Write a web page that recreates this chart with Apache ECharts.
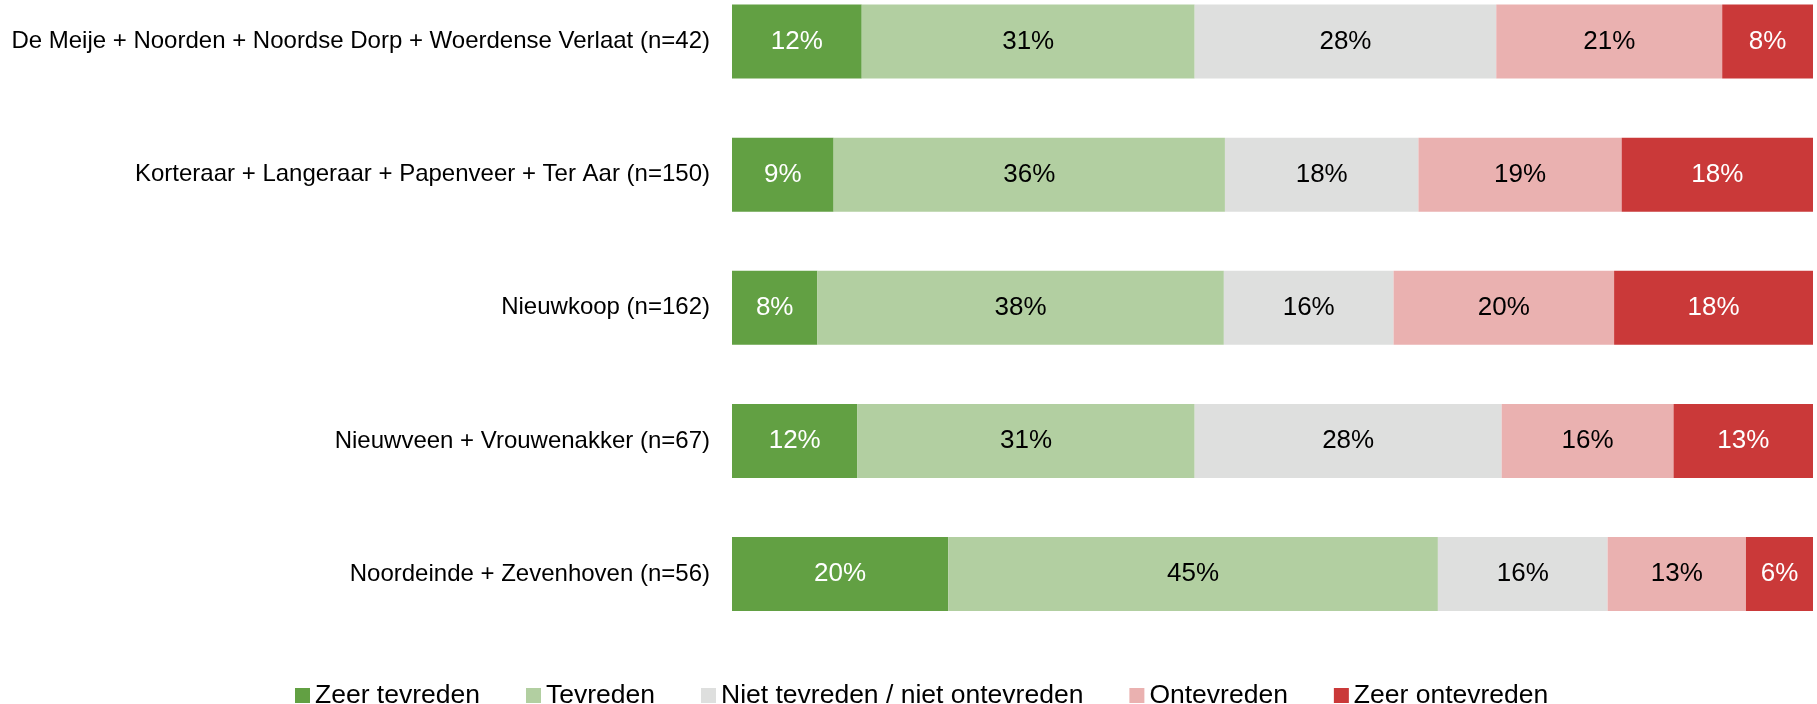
<!DOCTYPE html>
<html>
<head>
<meta charset="utf-8">
<script src="https://cdn.jsdelivr.net/npm/echarts@6/dist/echarts.min.js"></script>
<style>
html,body{margin:0;padding:0;background:#fff;}
#chart{width:1817px;height:704px;}
</style>
</head>
<body>
<div id="chart"></div>
<script>
const categories = [
  "De Meije + Noorden + Noordse Dorp + Woerdense Verlaat (n=42)",
  "Korteraar + Langeraar + Papenveer + Ter Aar (n=150)",
  "Nieuwkoop (n=162)",
  "Nieuwveen + Vrouwenakker (n=67)",
  "Noordeinde + Zevenhoven (n=56)"
];
const seriesNames = ["Zeer tevreden", "Tevreden", "Niet tevreden / niet ontevreden", "Ontevreden", "Zeer ontevreden"];
const zeerTevreden   = [12.0, 9.4, 7.9, 11.6, 20.0];
const tevreden       = [30.8, 36.2, 37.6, 31.2, 45.3];
const neutraal       = [27.9, 17.9, 15.7, 28.4, 15.7];
const ontevreden     = [20.9, 18.8, 20.4, 15.9, 12.8];
const zeerOntevreden = [8.4, 17.7, 18.4, 12.9, 6.2];

const colors = ["#62A043", "#B2CFA1", "#DEDFDE", "#EAB1B0", "#CA3939"];
const labelColors = ["#ffffff", "#000000", "#000000", "#000000", "#ffffff"];
const allData = [zeerTevreden, tevreden, neutraal, ontevreden, zeerOntevreden];
const FONT = "'Liberation Sans', Arial, sans-serif";

const chart = echarts.init(document.getElementById('chart'), null, {renderer: 'canvas'});
chart.setOption({
  animation: false,
  backgroundColor: '#ffffff',
  grid: {left: 732, right: 4, top: 41.5, bottom: 130, containLabel: false},
  xAxis: {type: 'value', min: 0, max: 100, show: false},
  yAxis: {
    type: 'category', data: categories, inverse: true, boundaryGap: false,
    axisLine: {show: false}, axisTick: {show: false}, splitLine: {show: false},
    axisLabel: {color: '#000000', fontSize: 24, fontFamily: FONT, margin: 22}
  },
  legend: {
    data: seriesNames, left: 290, top: 677, itemGap: 46, itemWidth: 15, itemHeight: 15,
    icon: 'rect',
    textStyle: {color: '#000000', fontSize: 26.5, fontFamily: FONT, padding: [0, 0, 0, 0]}
  },
  series: seriesNames.map((name, i) => ({
    name: name, type: 'bar', stack: 'total', barWidth: 74,
    data: allData[i],
    itemStyle: {color: colors[i]},
    label: {
      show: true, position: 'inside', color: labelColors[i], fontSize: 26, fontFamily: FONT,
      formatter: p => Math.round(p.value) + '%'
    }
  }))
});
</script>
</body>
</html>
